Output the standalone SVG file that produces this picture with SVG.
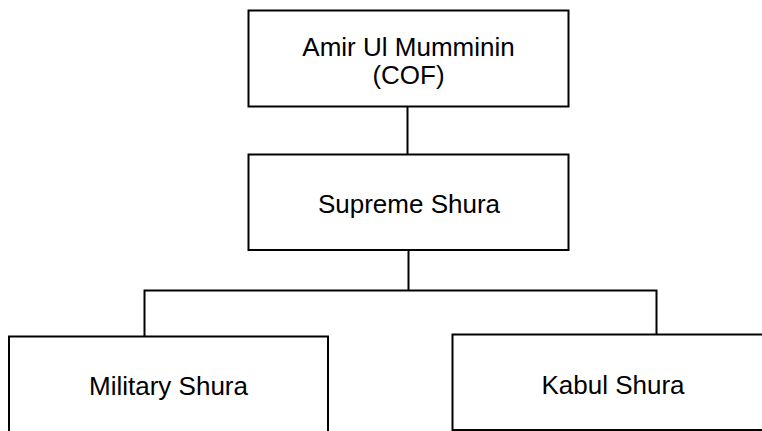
<svg xmlns="http://www.w3.org/2000/svg" width="762" height="431" viewBox="0 0 762 431">
<style>
.box{fill:#fff;stroke:#000;stroke-width:2}
.ln{fill:none;stroke:#000;stroke-width:2}
text{font-family:"Liberation Sans",Arial,sans-serif;font-size:26px;fill:#000;text-anchor:middle}
</style>
<rect width="762" height="431" fill="#fff"/>
<g id="connectors">
<line class="ln" x1="407.5" y1="106.5" x2="407.5" y2="154.5"/>
<line class="ln" x1="408.5" y1="250" x2="408.5" y2="290.5"/>
<polyline class="ln" points="144.5,336.5 144.5,290.5 656.5,290.5 656.5,334.5"/>
</g>
<g id="amir">
<rect class="box" x="248.5" y="10.5" width="320" height="96"/>
<text x="408.5" y="55.5">Amir Ul Mumminin</text>
<text x="408.5" y="84">(COF)</text>
</g>
<g id="supreme">
<rect class="box" x="248.5" y="154.5" width="320" height="95.5"/>
<text x="409" y="212.5">Supreme Shura</text>
</g>
<g id="military">
<rect class="box" x="9" y="336.5" width="319" height="110"/>
<text x="168.5" y="395">Military Shura</text>
</g>
<g id="kabul">
<rect class="box" x="452.5" y="334.5" width="330" height="95.5"/>
<text x="613" y="393.5">Kabul Shura</text>
</g>
</svg>
